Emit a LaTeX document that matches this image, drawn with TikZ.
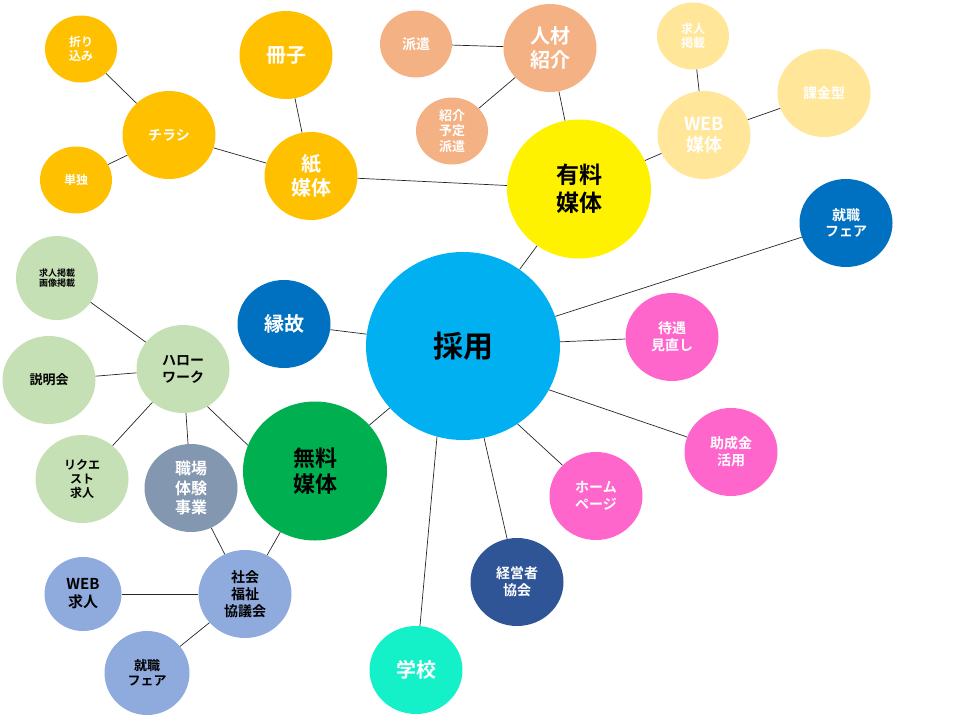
\documentclass[tikz,border=0pt]{standalone}
\usepackage{fontspec}
\setmainfont{Noto Sans CJK JP}[BoldFont={Noto Sans CJK JP Bold}]
\usetikzlibrary{shapes.geometric}

\definecolor{gold}{HTML}{FFC000}
\definecolor{peach}{HTML}{F4B183}
\definecolor{lightgold}{HTML}{FFE699}
\definecolor{sky}{HTML}{00B0F0}
\definecolor{deepblue}{HTML}{0070C0}
\definecolor{pink}{HTML}{FF66CC}
\definecolor{navy}{HTML}{2F5597}
\definecolor{aqua}{HTML}{14F0C8}
\definecolor{sage}{HTML}{C5E0B4}
\definecolor{grass}{HTML}{00B050}
\definecolor{slate}{HTML}{8497B0}
\definecolor{periwinkle}{HTML}{8FAADC}

\newcommand\fsz[1]{\fontsize{#1pt}{\the\dimexpr#1pt*6/5\relax}\selectfont}

\begin{document}
\begin{tikzpicture}[%
    x=1pt, y=-1pt,
    bubble/.style={ellipse, inner sep=0pt, align=center, font=\bfseries},
    huge/.style={bubble, minimum width=194pt, minimum height=188pt},
    big/.style={bubble, minimum width=144pt, minimum height=139pt},
    mid/.style={bubble, minimum width=93pt, minimum height=88pt},
    tiny/.style={bubble, minimum width=72pt, minimum height=67pt},
    fs/.style={font=\bfseries\fsz{#1}},
    link/.style={draw=black!85, line width=0.7pt},
  ]
    \useasboundingbox (0,0) rectangle (960,720);

    % core
    \node (saiyo) [huge, fill=sky, fs=30]                at (463,346) {採用};
    \node (yuryo) [big, fill=yellow, fs=23]              at (579,189) {有料\\媒体};
    \node (muryo) [big, fill=grass, fs=22]               at (315,471) {無料\\媒体};

    % paper media
    \node (kami)     [mid, fill=gold, text=white, fs=20]  at (311,176) {紙\\媒体};
    \node (sasshi)   [mid, fill=gold, text=white, fs=20]  at (286,55)  {冊子};
    \node (chirashi) [mid, fill=gold, text=white, fs=14]  at (169,135) {チラシ};
    \node (orikomi)  [tiny, fill=gold, text=white, fs=12] at (81,49)   {折り\\込み};
    \node (tandoku)  [tiny, fill=gold, text=white, fs=12] at (76,180)  {単独};

    % agencies
    \node (jinzai)  [mid, fill=peach, text=white, fs=20]  at (550,48)  {人材\\紹介};
    \node (haken)   [tiny, fill=peach, text=white, fs=14] at (416,44)  {派遣};
    \node (yotei)   [tiny, fill=peach, text=white, fs=13] at (452,131) {紹介\\予定\\派遣};

    % web
    \node (web)     [mid, fill=lightgold, text=white, fs=18] at (704,135) {WEB\\媒体};
    \node (keisai)  [tiny, fill=lightgold, text=white, fs=12] at (693,36) {求人\\掲載};
    \node (kakin)   [mid, fill=lightgold, text=white, fs=14] at (824,93)  {課金型};

    % right side
    \node (fairR)   [mid, fill=deepblue, text=white, fs=14] at (846,223) {就職\\フェア};
    \node (taigu)   [mid, fill=pink, text=white, fs=14]     at (672,337) {待遇\\見直し};
    \node (josei)   [mid, fill=pink, text=white, fs=14]     at (731,452) {助成金\\活用};
    \node (home)    [mid, fill=pink, text=white, fs=14]     at (596,496) {ホーム\\ページ};
    \node (keiei)   [mid, fill=navy, text=white, fs=14]     at (517,582) {経営者\\協会};
    \node (gakko)   [mid, fill=aqua, text=white, fs=20]     at (416,670) {学校};
    \node (enko)    [mid, fill=deepblue, text=white, fs=20] at (284,324) {縁故};

    % hello work
    \node (hello)    [mid, fill=sage, fs=14]  at (183,369) {ハロー\\ワーク};
    \node (gazo)     [bubble, minimum width=82pt, minimum height=84pt, fill=sage, fs=9]
                                              at (57,278)  {求人掲載\\画像掲載};
    \node (setsumei) [mid, fill=sage, fs=13]  at (49,380)  {説明会};
    \node (request)  [mid, fill=sage, fs=12]  at (82,479)  {リクエ\\スト\\求人};
    \node (shokuba)  [mid, fill=slate, text=white, fs=16] at (191,488) {職場\\体験\\事業};

    % social welfare council
    \node (shakyo)   [mid, fill=periwinkle, fs=14] at (245,594) {社会\\福祉\\協議会};
    \node (webkyu)   [bubble, minimum width=77pt, minimum height=74pt, fill=periwinkle, fs=15]
                                                   at (83,594)  {WEB\\求人};
    \node (fairL)    [bubble, minimum width=85pt, minimum height=84pt, fill=periwinkle, fs=13]
                                                   at (147,673) {就職\\フェア};

    \path[link] (orikomi)    edge (chirashi)
                (tandoku)    edge (chirashi)
                (chirashi)   edge (kami)
                (sasshi)     edge (kami)
                (kami)       edge (yuryo)
                (haken)      edge (jinzai)
                (yotei)      edge (jinzai)
                (jinzai)     edge (yuryo)
                (keisai)     edge (web)
                (kakin)      edge (web)
                (web)        edge (yuryo)
                (yuryo)      edge (saiyo)
                (saiyo)      edge (fairR)
                (saiyo)      edge (taigu)
                (saiyo.-27)  edge (josei)
                (saiyo.-55)  edge (home)
                (saiyo)      edge (keiei)
                (saiyo.-106) edge (gakko)
                (saiyo)      edge (enko)
                (saiyo)      edge (muryo)
                (gazo)       edge (hello)
                (setsumei)   edge (hello)
                (request)    edge (hello)
                (shokuba)    edge (hello)
                (hello.-57)  edge (muryo.159)
                (shokuba)    edge (shakyo)
                (muryo)      edge (shakyo)
                (webkyu)     edge (shakyo)
                (fairL)      edge (shakyo)
                ;
\end{tikzpicture}
\end{document}
